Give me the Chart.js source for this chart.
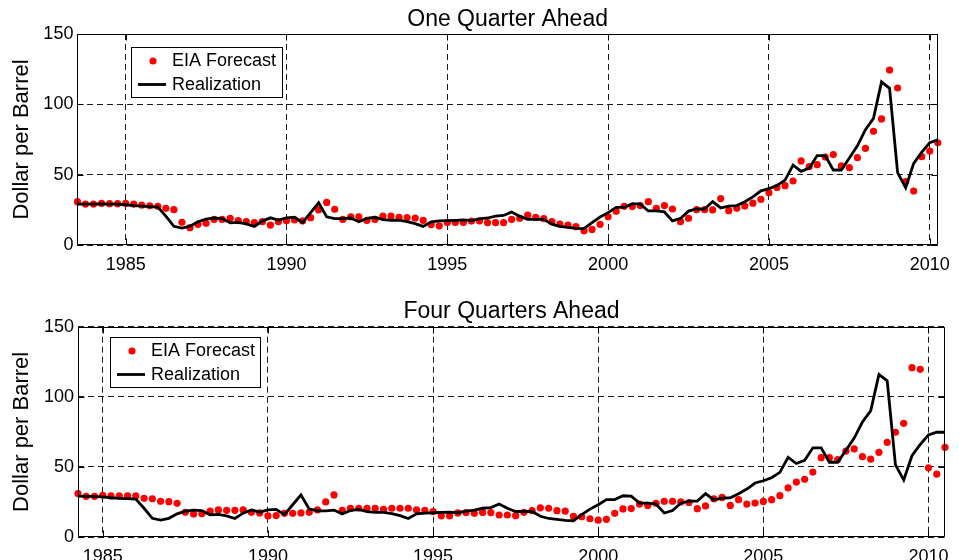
<!DOCTYPE html>
<html>
<head>
<meta charset="utf-8">
<script src="https://cdn.jsdelivr.net/npm/chart.js@4.4.1/dist/chart.umd.min.js"></script>
<style>
html,body{margin:0;padding:0;background:#fff;}
#wrap{position:relative;width:959px;height:560px;overflow:hidden;background:#fff;}
.box{position:absolute;left:0;width:959px;height:280px;}
</style>
</head>
<body>
<div id="wrap">
  <div class="box" style="top:0px"><canvas id="c1" width="959" height="280"></canvas></div>
  <div class="box" style="top:280px"><canvas id="c2" width="959" height="280"></canvas></div>
</div>
<script>
// ---------------- DATA ----------------
// Quarterly observations, first value at the given start (year fraction), step 0.25
const realizedStart = 1983.5;
const realized = [
  29.1, 29.0,
  29.0, 29.2, 29.0, 29.0,
  28.6, 28.0, 27.6, 27.3,
  27.0, 20.5, 13.3, 12.0,
  13.3, 16.5, 18.4, 19.2,
  18.8, 15.8, 16.1, 15.0,
  13.2, 17.0, 19.3, 17.7,
  19.3, 19.7, 15.9, 23.0,
  30.0, 20.0, 18.7, 18.7,
  19.2, 16.5, 18.9, 19.7,
  18.1, 17.6, 17.6, 16.6,
  15.2, 13.2, 16.5, 17.1,
  17.3, 17.5, 17.8, 17.3,
  18.5, 19.2, 20.5, 21.0,
  23.5, 20.5, 18.2, 18.2,
  18.2, 14.8, 13.2, 12.6,
  11.8, 11.6, 15.9, 19.9,
  23.0, 26.7, 26.7, 29.4,
  29.1, 24.2, 24.2, 23.5,
  17.1, 18.9, 24.1, 25.6,
  25.6, 30.9, 26.4, 27.7,
  28.0, 30.8, 34.2, 38.5,
  40.1, 42.3, 46.1, 56.8,
  52.4, 54.7, 63.6, 63.6,
  53.3, 53.3, 61.8, 70.5,
  82.0, 90.0, 116.0, 111.4,
  51.4, 40.7, 58.0, 66.0,
  72.8, 74.8, 74.7
];

const forecast1Start = 1983.5;
const forecast1 = [
  30.8, 29.1,
  29.1, 29.6, 29.4, 29.4,
  29.6, 29.1, 28.4, 27.9,
  27.5, 26.1, 25.1, 16.1,
  12.3, 14.7, 15.4, 18.2,
  18.2, 19.0, 17.3, 16.6,
  15.9, 16.6, 14.2, 16.6,
  17.3, 17.8, 17.1, 19.4,
  24.9, 30.3, 25.4, 18.2,
  20.1, 20.1, 17.5, 18.2,
  20.6, 20.6, 19.7, 19.5,
  19.2, 17.5, 14.5, 13.6,
  16.0, 16.0, 16.0, 17.0,
  17.1, 15.9, 15.9, 15.9,
  18.2, 19.0, 21.3, 19.7,
  18.7, 16.6, 14.9, 14.2,
  13.0, 10.2, 11.1, 14.7,
  20.1, 24.0, 27.5, 27.3,
  28.0, 30.8, 26.1, 28.0,
  25.6, 16.6, 19.0, 25.1,
  25.1, 24.9, 33.0, 24.4,
  26.1, 27.7, 29.7, 32.5,
  37.2, 40.9, 42.2, 45.5,
  59.8, 55.7, 57.1, 62.5,
  64.3, 56.2, 55.0, 62.1,
  68.7, 80.8, 89.6, 124.4,
  111.6, 45.0, 38.4, 62.8,
  66.8, 72.7
];

const forecast4Start = 1984.25;
const forecast4 = [
  31.0, 29.0, 29.0,
  29.7, 29.3, 29.3, 29.3,
  29.3, 27.6, 27.3, 25.5,
  25.2, 24.0, 17.6, 16.4,
  16.6, 18.4, 19.3, 19.0,
  19.0, 19.3, 17.6, 17.2,
  15.0, 15.3, 16.9, 16.9,
  17.2, 17.6, 19.3, 25.0,
  30.0, 19.0, 20.5, 20.5,
  20.5, 20.5, 19.7, 20.5,
  20.5, 20.5, 19.3, 19.0,
  18.1, 15.1, 15.1, 17.2,
  17.4, 16.9, 17.5, 17.4,
  15.7, 15.7, 15.2, 17.6,
  18.8, 20.8, 20.5, 18.8,
  18.4, 14.8, 14.5, 13.0,
  12.0, 12.6, 16.9, 20.0,
  20.3, 23.5, 22.5, 24.0,
  25.5, 25.5, 25.0, 24.6,
  20.2, 22.2, 27.3, 28.2,
  22.5, 26.6, 23.5, 24.2,
  25.4, 26.6, 29.5, 35.0,
  39.2, 41.2, 46.3, 56.6,
  56.6, 55.2, 61.3, 62.8,
  57.3, 55.5, 60.4, 67.5,
  74.7, 81.1, 120.8, 119.6,
  49.4, 44.9, 64.0
];

const topRange = [1983.5, 2010.25];
const bottomRange = [1984.25, 2010.5];
const xTickValues = [1985, 1990, 1995, 2000, 2005, 2010];
const yTickValues = [0, 50, 100, 150];
const chartTitles = ['One Quarter Ahead', 'Four Quarters Ahead'];
const yAxisLabel = 'Dollar per Barrel';
const legendLabels = ['EIA Forecast', 'Realization'];

// ---------------- RENDER ----------------
const FONT = '"Liberation Sans", Arial, Helvetica, sans-serif';

function toPoints(start, values) {
  return values.map((v, i) => ({ x: start + i * 0.25, y: v }));
}
function inRange(points, range) {
  return points.filter(p => p.x >= range[0] - 1e-9 && p.x <= range[1] + 1e-9);
}

const framePlugin = {
  id: 'boxFrame',
  afterDraw(chart) {
    const { ctx, chartArea: a } = chart;
    const xs = chart.scales.x, ys = chart.scales.y;
    const L = Math.round(a.left) + 0.5, R = Math.round(a.right) - 0.5;
    const T = Math.round(a.top) + 0.5, B = Math.round(a.bottom) - 0.5;
    ctx.save();
    ctx.setLineDash([]);
    ctx.strokeStyle = '#000';
    ctx.lineWidth = 1;
    ctx.beginPath();
    ctx.rect(L, T, R - L, B - T);
    const tl = 6;
    xTickValues.forEach(v => {
      const px = Math.round(xs.getPixelForValue(v)) + 0.5;
      ctx.moveTo(px, B); ctx.lineTo(px, B - tl);
      ctx.moveTo(px, T); ctx.lineTo(px, T + tl);
    });
    yTickValues.forEach(v => {
      const py = Math.round(ys.getPixelForValue(v)) + 0.5;
      ctx.moveTo(L, py); ctx.lineTo(L + tl, py);
      ctx.moveTo(R, py); ctx.lineTo(R - tl, py);
    });
    ctx.stroke();
    ctx.restore();
  }
};

const legendPlugin = {
  id: 'inLegend',
  afterDraw(chart, args, opts) {
    const { ctx } = chart;
    const ds = chart.data.datasets;
    const x = opts.x, y = opts.y, w = opts.w, h = opts.h;
    ctx.save();
    ctx.setLineDash([]);
    ctx.fillStyle = '#fff';
    ctx.fillRect(x, y, w, h);
    ctx.strokeStyle = '#000';
    ctx.lineWidth = 1;
    ctx.strokeRect(x + 0.5, y + 0.5, w, h);
    ctx.font = '18px ' + FONT;
    ctx.textBaseline = 'middle';
    ctx.textAlign = 'left';
    // marker item
    const y1 = y + 14, y2 = y + 37.5;
    ctx.fillStyle = ds[0].pointBackgroundColor;
    ctx.beginPath();
    ctx.arc(x + 22, y1, ds[0].pointRadius, 0, Math.PI * 2);
    ctx.fill();
    ctx.fillStyle = '#000';
    ctx.fillText(ds[0].label, x + 41, y1 + 0.5);
    // line item
    ctx.strokeStyle = ds[1].borderColor;
    ctx.lineWidth = ds[1].borderWidth;
    ctx.beginPath();
    ctx.moveTo(x + 7, y2); ctx.lineTo(x + 35, y2);
    ctx.stroke();
    ctx.fillStyle = '#000';
    ctx.fillText(ds[1].label, x + 41, y2 + 0.5);
    ctx.restore();
  }
};

function makeChart(id, cfg) {
  const area = cfg.area;
  return new Chart(document.getElementById(id), {
    type: 'scatter',
    data: {
      datasets: [
        {
          label: legendLabels[0], data: cfg.forecast, showLine: false,
          pointRadius: 3.6, pointHoverRadius: 3.6, pointStyle: 'circle',
          pointBackgroundColor: '#ff0000', pointBorderColor: '#ff0000', pointBorderWidth: 0,
          order: 2, clip: false
        },
        {
          label: legendLabels[1], data: cfg.real, showLine: true,
          borderColor: '#000000', borderWidth: 2.8, pointRadius: 0, pointHoverRadius: 0,
          tension: 0, fill: false, order: 1, clip: false,
          borderJoinStyle: 'miter'
        }
      ]
    },
    options: {
      responsive: false, animation: false, devicePixelRatio: 1,
      events: [],
      layout: { padding: { left: 0, right: 959 - area.right, top: 0, bottom: 0 } },
      plugins: {
        legend: { display: false },
        tooltip: { enabled: false },
        title: {
          display: true, text: cfg.title, fullSize: false, color: '#000',
          font: { family: FONT, size: 23, weight: 'normal', lineHeight: 1.2 },
          padding: { top: cfg.titlePadTop, bottom: area.top - cfg.titlePadTop - 27.6 }
        },
        inLegend: cfg.legendBox
      },
      scales: {
        x: {
          type: 'linear', position: 'bottom', min: cfg.range[0], max: cfg.range[1],
          afterBuildTicks: s => { s.ticks = xTickValues.map(v => ({ value: v })); },
          afterFit: s => { s.height = 280 - area.bottom; },
          ticks: {
            callback: v => String(v), color: '#000', padding: cfg.xTickPad,
            font: { family: FONT, size: 18 }, maxRotation: 0, minRotation: 0, autoSkip: false
          },
          grid: { drawTicks: false, color: '#1a1a1a', lineWidth: 1 },
          border: { display: false, dash: [6, 4] }
        },
        y: {
          type: 'linear', position: 'left', min: 0, max: 150,
          afterBuildTicks: s => { s.ticks = yTickValues.map(v => ({ value: v })); },
          afterFit: s => { s.width = area.left; },
          ticks: {
            callback: v => String(v), color: '#000', padding: 4,
            font: { family: FONT, size: 18 }
          },
          grid: { drawTicks: false, color: '#1a1a1a', lineWidth: 1 },
          border: { display: false, dash: [6, 4] },
          title: {
            display: true, text: yAxisLabel, color: '#000',
            font: { family: FONT, size: 22, weight: 'normal', lineHeight: 1.2 },
            padding: { top: 9, bottom: 0 }
          }
        }
      }
    },
    plugins: [framePlugin, legendPlugin]
  });
}

const realPts = toPoints(realizedStart, realized);

makeChart('c1', {
  title: chartTitles[0],
  range: topRange,
  forecast: inRange(toPoints(forecast1Start, forecast1), topRange),
  real: inRange(realPts, topRange),
  area: { left: 77.4, right: 945, top: 34, bottom: 245 },
  titlePadTop: 5.5,
  xTickPad: 9,
  legendBox: { x: 131, y: 47, w: 151, h: 50 }
});

makeChart('c2', {
  title: chartTitles[1],
  range: bottomRange,
  forecast: inRange(toPoints(forecast4Start, forecast4), bottomRange),
  real: inRange(realPts, bottomRange),
  area: { left: 78, right: 945, top: 46.7, bottom: 257 },
  titlePadTop: 17.5,
  xTickPad: 9,
  legendBox: { x: 110, y: 57, w: 150, h: 50 }
});
</script>
</body>
</html>
